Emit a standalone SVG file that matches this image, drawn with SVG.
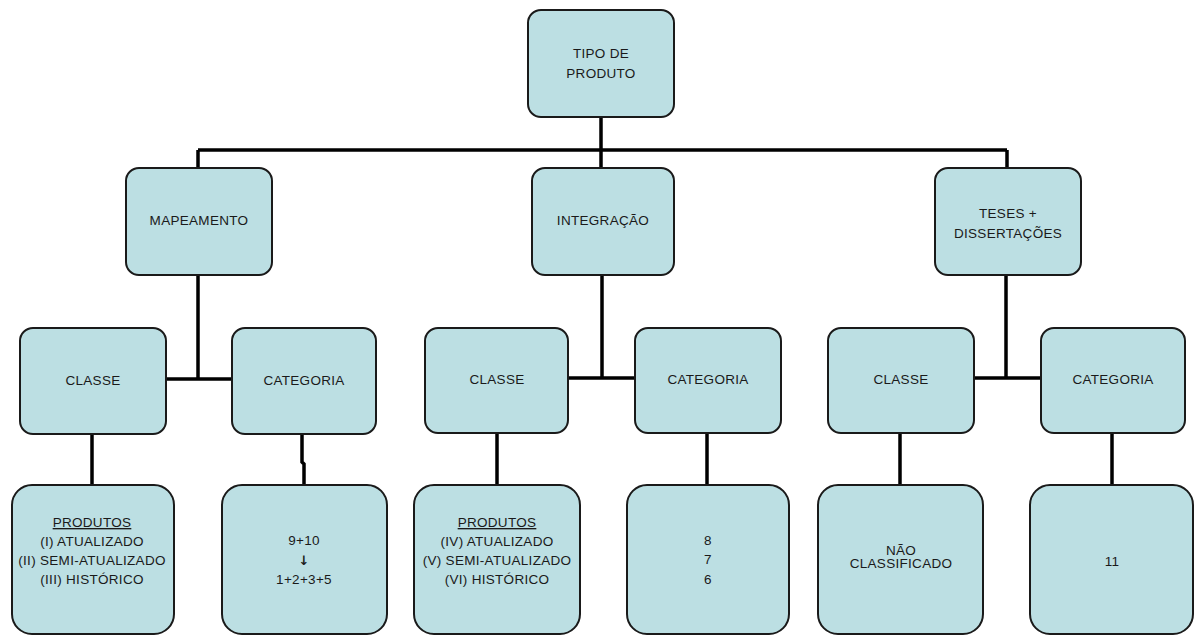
<svg xmlns="http://www.w3.org/2000/svg" width="1194" height="635" viewBox="0 0 1194 635">
<style>
.box{fill:#bcdfe3;stroke:#1a1a1a;stroke-width:2}
.conn{fill:none;stroke:#000;stroke-width:3.5}
text{font-family:"Liberation Sans",Arial,sans-serif;font-size:13.5px;fill:#1a1a1a;text-anchor:middle;letter-spacing:0.3px}
.arrow{font-family:"DejaVu Sans",sans-serif;font-size:13px;font-weight:bold}
</style>
<rect width="1194" height="635" fill="#fff"/>
<g id="connectors">
<path class="conn" d="M601,117 V150 M198,150 H1007 M198,150 V168 M601,150 V168 M1007,150 V168"/>
<path class="conn" d="M198,275 V379 M166,379 H232"/>
<path class="conn" d="M602,275 V378 M568,378 H635"/>
<path class="conn" d="M1006,275 V378 M974,378 H1041"/>
<path class="conn" d="M92,434 V485"/>
<path class="conn" d="M302,434 V462 L304,464 V485"/>
<path class="conn" d="M497,433 V485"/>
<path class="conn" d="M707,433 V485"/>
<path class="conn" d="M900,433 V485"/>
<path class="conn" d="M1112,433 V485"/>
</g>
<g id="tipo"><rect class="box" x="528" y="10" width="146" height="107" rx="13"/><text x="601" y="58">TIPO DE</text><text x="601" y="78">PRODUTO</text></g>
<g id="mapeamento"><rect class="box" x="126" y="168" width="146" height="107" rx="13"/><text x="199" y="225">MAPEAMENTO</text></g>
<g id="integracao"><rect class="box" x="532" y="168" width="142" height="107" rx="13"/><text x="603" y="225">INTEGRAÇÃO</text></g>
<g id="teses"><rect class="box" x="935" y="168" width="146" height="107" rx="13"/><text x="1008" y="218">TESES +</text><text x="1008" y="238">DISSERTAÇÕES</text></g>
<g id="classe1"><rect class="box" x="20" y="328" width="146" height="106" rx="13"/><text x="93" y="385">CLASSE</text></g>
<g id="categoria1"><rect class="box" x="232" y="328" width="144" height="106" rx="13"/><text x="304" y="385">CATEGORIA</text></g>
<g id="classe2"><rect class="box" x="425" y="328" width="143" height="105" rx="13"/><text x="497" y="384">CLASSE</text></g>
<g id="categoria2"><rect class="box" x="635" y="328" width="146" height="105" rx="13"/><text x="708" y="384">CATEGORIA</text></g>
<g id="classe3"><rect class="box" x="828" y="328" width="146" height="105" rx="13"/><text x="901" y="384">CLASSE</text></g>
<g id="categoria3"><rect class="box" x="1041" y="328" width="144" height="105" rx="13"/><text x="1113" y="384">CATEGORIA</text></g>
<g id="produtos1"><rect class="box" x="12" y="485" width="162" height="149" rx="20"/>
<text x="92" y="527" text-decoration="underline">PRODUTOS</text><text x="92" y="546">(I) ATUALIZADO</text><text x="92" y="565">(II) SEMI-ATUALIZADO</text><text x="92" y="584">(III) HISTÓRICO</text></g>
<g id="cat1"><rect class="box" x="222" y="485" width="165" height="149" rx="20"/>
<text x="304" y="545">9+10</text><text class="arrow" x="304" y="565">↓</text><text x="304" y="584">1+2+3+5</text></g>
<g id="produtos2"><rect class="box" x="414" y="485" width="166" height="149" rx="20"/>
<text x="497" y="527" text-decoration="underline">PRODUTOS</text><text x="497" y="546">(IV) ATUALIZADO</text><text x="497" y="565">(V) SEMI-ATUALIZADO</text><text x="497" y="584">(VI) HISTÓRICO</text></g>
<g id="cat2"><rect class="box" x="627" y="485" width="162" height="149" rx="20"/>
<text x="708" y="545">8</text><text x="708" y="564">7</text><text x="708" y="584">6</text></g>
<g id="naoclass"><rect class="box" x="818" y="485" width="165" height="149" rx="20"/>
<text x="901" y="555">NÃO</text><text x="901" y="568">CLASSIFICADO</text></g>
<g id="cat3"><rect class="box" x="1030" y="485" width="163" height="149" rx="20"/>
<text x="1112" y="566">11</text></g>
</svg>
